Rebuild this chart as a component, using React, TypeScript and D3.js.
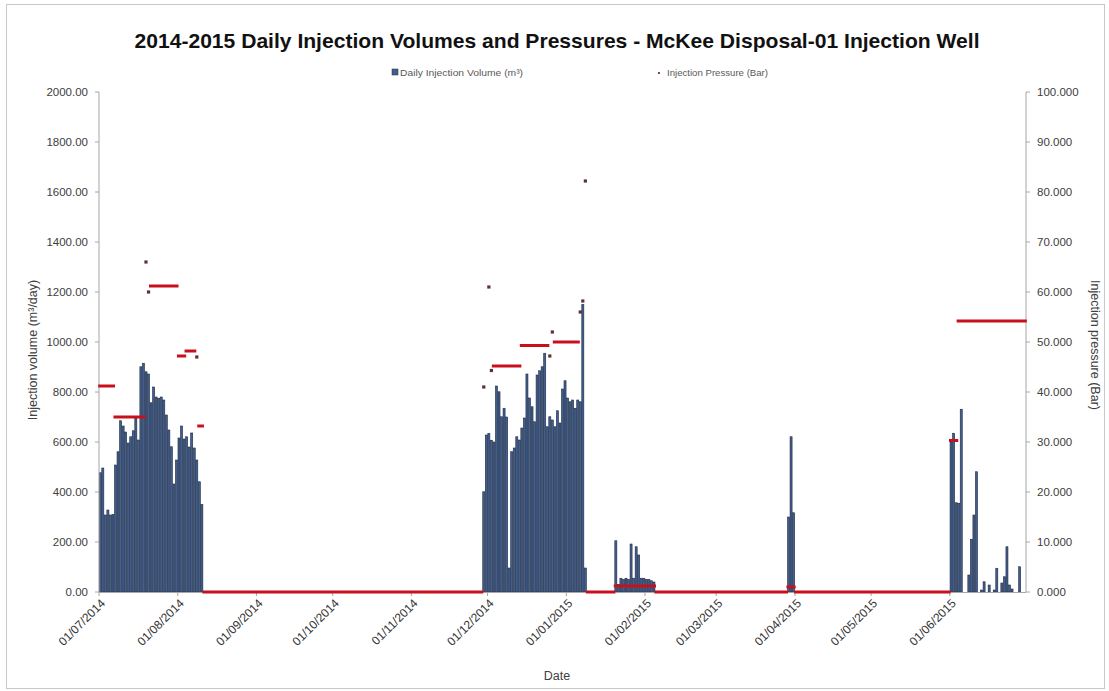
import React from "react";
import * as d3 from "d3";

const W = 1109;
const H = 691;
const PLOT = { left: 99, right: 1026, top: 92, bottom: 592 };

const titleText = "2014-2015 Daily Injection Volumes and Pressures - McKee Disposal-01 Injection Well";
const volumeLegend = "Daily Injection Volume (m³)";
const pressureLegend = "Injection Pressure (Bar)";
const leftAxisTitle = "Injection volume (m³/day)";
const rightAxisTitle = "Injection pressure (Bar)";
const xAxisTitle = "Date";

const volumeTicks = [0, 200, 400, 600, 800, 1000, 1200, 1400, 1600, 1800, 2000];
const pressureTicks = [0, 10, 20, 30, 40, 50, 60, 70, 80, 90, 100];
const monthTicks = [
  "2014-07-01", "2014-08-01", "2014-09-01", "2014-10-01", "2014-11-01", "2014-12-01",
  "2015-01-01", "2015-02-01", "2015-03-01", "2015-04-01", "2015-05-01", "2015-06-01",
];

// Daily injection volumes (m³), consecutive days from the start date
const julAugStart = "2014-07-01";
const julAugVolume = [
  477, 496, 308, 328, 308, 310, 508, 561, 685, 664, 640, 596, 621, 645, 696, 608,
  901, 915, 881, 872, 757, 820, 780, 775, 780, 768, 708, 648, 581, 432, 528, 616,
  664, 612, 621, 580, 636, 576, 528, 441, 350,
];
const decJanStart = "2014-11-29";
const decJanVolume = [
  401, 628, 634, 607, 600, 824, 801, 701, 735, 700, 96, 561, 576, 621, 608, 656,
  696, 872, 776, 741, 681, 868, 885, 901, 955, 661, 701, 688, 661, 725, 676, 812,
  845, 776, 761, 768, 735, 768, 761, 1150, 96,
];
const janFebStart = "2015-01-20";
const janFebVolume = [205, 30, 55, 50, 55, 50, 192, 55, 181, 148, 55, 55, 50, 50, 45, 40];
const aprStart = "2015-03-29";
const aprVolume = [300, 621, 317];
const junStart = "2015-06-01";
const junVolume = [
  600, 635, 357, 355, 731, 0, 0, 68, 211, 308, 481, 0, 8, 41, 0, 28,
  0, 8, 95, 0, 36, 61, 181, 28, 12, 0, 0, 101, 0, 0,
];

// Injection pressure (Bar): [first day, last day, value]
const pressureRuns: [string, string, number][] = [
  ["2014-07-01", "2014-07-06", 41.2],
  ["2014-07-07", "2014-07-18", 35.0],
  ["2014-07-19", "2014-07-19", 66.0],
  ["2014-07-20", "2014-07-20", 60.0],
  ["2014-07-21", "2014-07-31", 61.2],
  ["2014-08-01", "2014-08-03", 47.2],
  ["2014-08-04", "2014-08-07", 48.2],
  ["2014-08-08", "2014-08-08", 47.0],
  ["2014-08-09", "2014-08-10", 33.2],
  ["2014-08-11", "2014-11-28", 0],
  ["2014-11-29", "2014-11-29", 41.0],
  ["2014-12-01", "2014-12-01", 61.0],
  ["2014-12-02", "2014-12-02", 44.3],
  ["2014-12-03", "2014-12-13", 45.2],
  ["2014-12-14", "2014-12-24", 49.3],
  ["2014-12-25", "2014-12-25", 47.2],
  ["2014-12-26", "2014-12-26", 52.0],
  ["2014-12-27", "2015-01-05", 50.0],
  ["2015-01-06", "2015-01-06", 56.0],
  ["2015-01-07", "2015-01-07", 58.2],
  ["2015-01-08", "2015-01-08", 82.2],
  ["2015-01-09", "2015-01-19", 0],
  ["2015-01-20", "2015-02-04", 1.2],
  ["2015-02-05", "2015-03-28", 0],
  ["2015-03-29", "2015-03-31", 1.0],
  ["2015-04-01", "2015-05-31", 0],
  ["2015-06-01", "2015-06-03", 30.3],
  ["2015-06-04", "2015-06-30", 54.2],
];

const volumeBlocks: [string, number[]][] = [
  [julAugStart, julAugVolume],
  [decJanStart, decJanVolume],
  [janFebStart, janFebVolume],
  [aprStart, aprVolume],
  [junStart, junVolume],
];

const parse = (s: string) => d3.utcParse("%Y-%m-%d")(s) as Date;
const fmtTick = d3.utcFormat("%d/%m/%Y");

const FONT = "'Liberation Sans', Arial, sans-serif";
const BAR_FILL = "#435e8b";
const BAR_STROKE = "#1c2a44";
const RED = "#c8101c";
const AXIS = "#a6a6a6";
const LABEL = "#404040";

export default function App() {
  const x = d3
    .scaleUtc()
    .domain([parse("2014-07-01"), parse("2015-07-01")])
    .range([PLOT.left, PLOT.right]);
  const yV = d3.scaleLinear().domain([0, 2000]).range([PLOT.bottom, PLOT.top]);
  const yP = d3.scaleLinear().domain([0, 100]).range([PLOT.bottom, PLOT.top]);

  const bars: { d: Date; v: number }[] = [];
  volumeBlocks.forEach(([start, vals]) => {
    const s = parse(start);
    vals.forEach((v, i) => bars.push({ d: d3.utcDay.offset(s, i), v }));
  });

  const dayW = (d: Date) => x(d3.utcDay.offset(d, 1)) - x(d);

  // Each run of equal daily pressure readings: markers merge into a thick dash line
  const runs = pressureRuns.map(([a, b, p]) => {
    const days = d3.utcDay.range(parse(a), d3.utcDay.offset(parse(b), 1));
    return { days, p };
  });
  const runLine = d3
    .line<[number, number]>()
    .x((d) => d[0])
    .y((d) => d[1]);

  const legendY = 73;

  return (
    <svg
      width={W}
      height={H}
      viewBox={`0 0 ${W} ${H}`}
      style={{ position: "absolute", left: 0, top: 0, background: "#fff" }}
      fontFamily={FONT}
    >
      <rect x={6.5} y={4.5} width={1098} height={684} fill="#fff" stroke="#c8c8c8" />

      {/* Title */}
      <text
        x={557}
        y={48}
        textAnchor="middle"
        fontSize={21}
        fontWeight="bold"
        fill="#111"
        textLength={845}
        lengthAdjust="spacingAndGlyphs"
      >
        {titleText}
      </text>

      {/* Legend */}
      <rect x={392} y={legendY - 4} width={6} height={6} fill={BAR_FILL} stroke={BAR_STROKE} strokeWidth={0.5} />
      <text x={400} y={legendY + 3} fontSize={9.5} fill="#595959" textLength={123} lengthAdjust="spacingAndGlyphs">
        {volumeLegend}
      </text>
      <rect x={658} y={legendY - 1} width={2} height={2} fill="#7a4a4a" />
      <text x={667} y={legendY + 3} fontSize={9.5} fill="#595959" textLength={101} lengthAdjust="spacingAndGlyphs">
        {pressureLegend}
      </text>

      {/* Bars */}
      <g>
        {bars
          .filter((b) => b.v > 0)
          .map((b, i) => {
            const w = dayW(b.d);
            return (
              <rect
                key={i}
                x={x(b.d) + 0.25}
                y={yV(b.v)}
                width={w - 0.5}
                height={yV(0) - yV(b.v)}
                fill={BAR_FILL}
                stroke={BAR_STROKE}
                strokeWidth={0.6}
              />
            );
          })}
      </g>

      {/* Axes */}
      <line x1={PLOT.left} x2={PLOT.left} y1={PLOT.top} y2={PLOT.bottom} stroke={AXIS} />
      <line x1={PLOT.right} x2={PLOT.right} y1={PLOT.top} y2={PLOT.bottom} stroke={AXIS} />
      <line x1={PLOT.left} x2={PLOT.right} y1={PLOT.bottom + 0.5} y2={PLOT.bottom + 0.5} stroke={AXIS} />

      {volumeTicks.map((t) => (
        <g key={"v" + t}>
          <line x1={PLOT.left - 4} x2={PLOT.left} y1={yV(t)} y2={yV(t)} stroke={AXIS} />
          <text x={88} y={yV(t)} dy="0.35em" textAnchor="end" fontSize={11.5} fill={LABEL}>
            {d3.format(".2f")(t)}
          </text>
        </g>
      ))}
      {pressureTicks.map((t) => (
        <g key={"p" + t}>
          <line x1={PLOT.right} x2={PLOT.right + 4} y1={yP(t)} y2={yP(t)} stroke={AXIS} />
          <text x={1037} y={yP(t)} dy="0.35em" textAnchor="start" fontSize={11.5} fill={LABEL}>
            {d3.format(".3f")(t)}
          </text>
        </g>
      ))}
      {monthTicks.map((m) => {
        const xx = x(parse(m));
        return (
          <g key={m}>
            <line x1={xx} x2={xx} y1={PLOT.bottom} y2={PLOT.bottom + 4} stroke={AXIS} />
            <text
              transform={`translate(${xx + 4},${PLOT.bottom + 9}) rotate(-45)`}
              dy="0.35em"
              textAnchor="end"
              fontSize={12}
              fill="#333"
            >
              {fmtTick(parse(m))}
            </text>
          </g>
        );
      })}

      {/* Pressure markers */}
      <g>
        {runs.map((r, i) => {
          if (r.days.length === 1 && r.p > 0) {
            const d = r.days[0];
            const cx = x(d) + dayW(d) / 2;
            const cy = yP(r.p);
            return <rect key={i} x={cx - 1.6} y={cy - 1.6} width={3.2} height={3.2} fill="#5a3434" />;
          }
          const first = r.days[0];
          const last = r.days[r.days.length - 1];
          const pts: [number, number][] = [
            [x(first) - 0.8, yP(r.p)],
            ...r.days.map((d) => [x(d) + dayW(d) / 2, yP(r.p)] as [number, number]),
            [x(d3.utcDay.offset(last, 1)) + 0.8, yP(r.p)],
          ];
          return <path key={i} d={runLine(pts) || ""} fill="none" stroke={RED} strokeWidth={3} />;
        })}
      </g>

      {/* Axis titles */}
      <text transform="translate(37,350) rotate(-90)" textAnchor="middle" fontSize={12.5} fill={LABEL}>
        {leftAxisTitle}
      </text>
      <text transform="translate(1091,345) rotate(90)" textAnchor="middle" fontSize={12.5} fill={LABEL}>
        {rightAxisTitle}
      </text>
      <text x={557} y={680} textAnchor="middle" fontSize={12.5} fill={LABEL}>
        {xAxisTitle}
      </text>
    </svg>
  );
}
